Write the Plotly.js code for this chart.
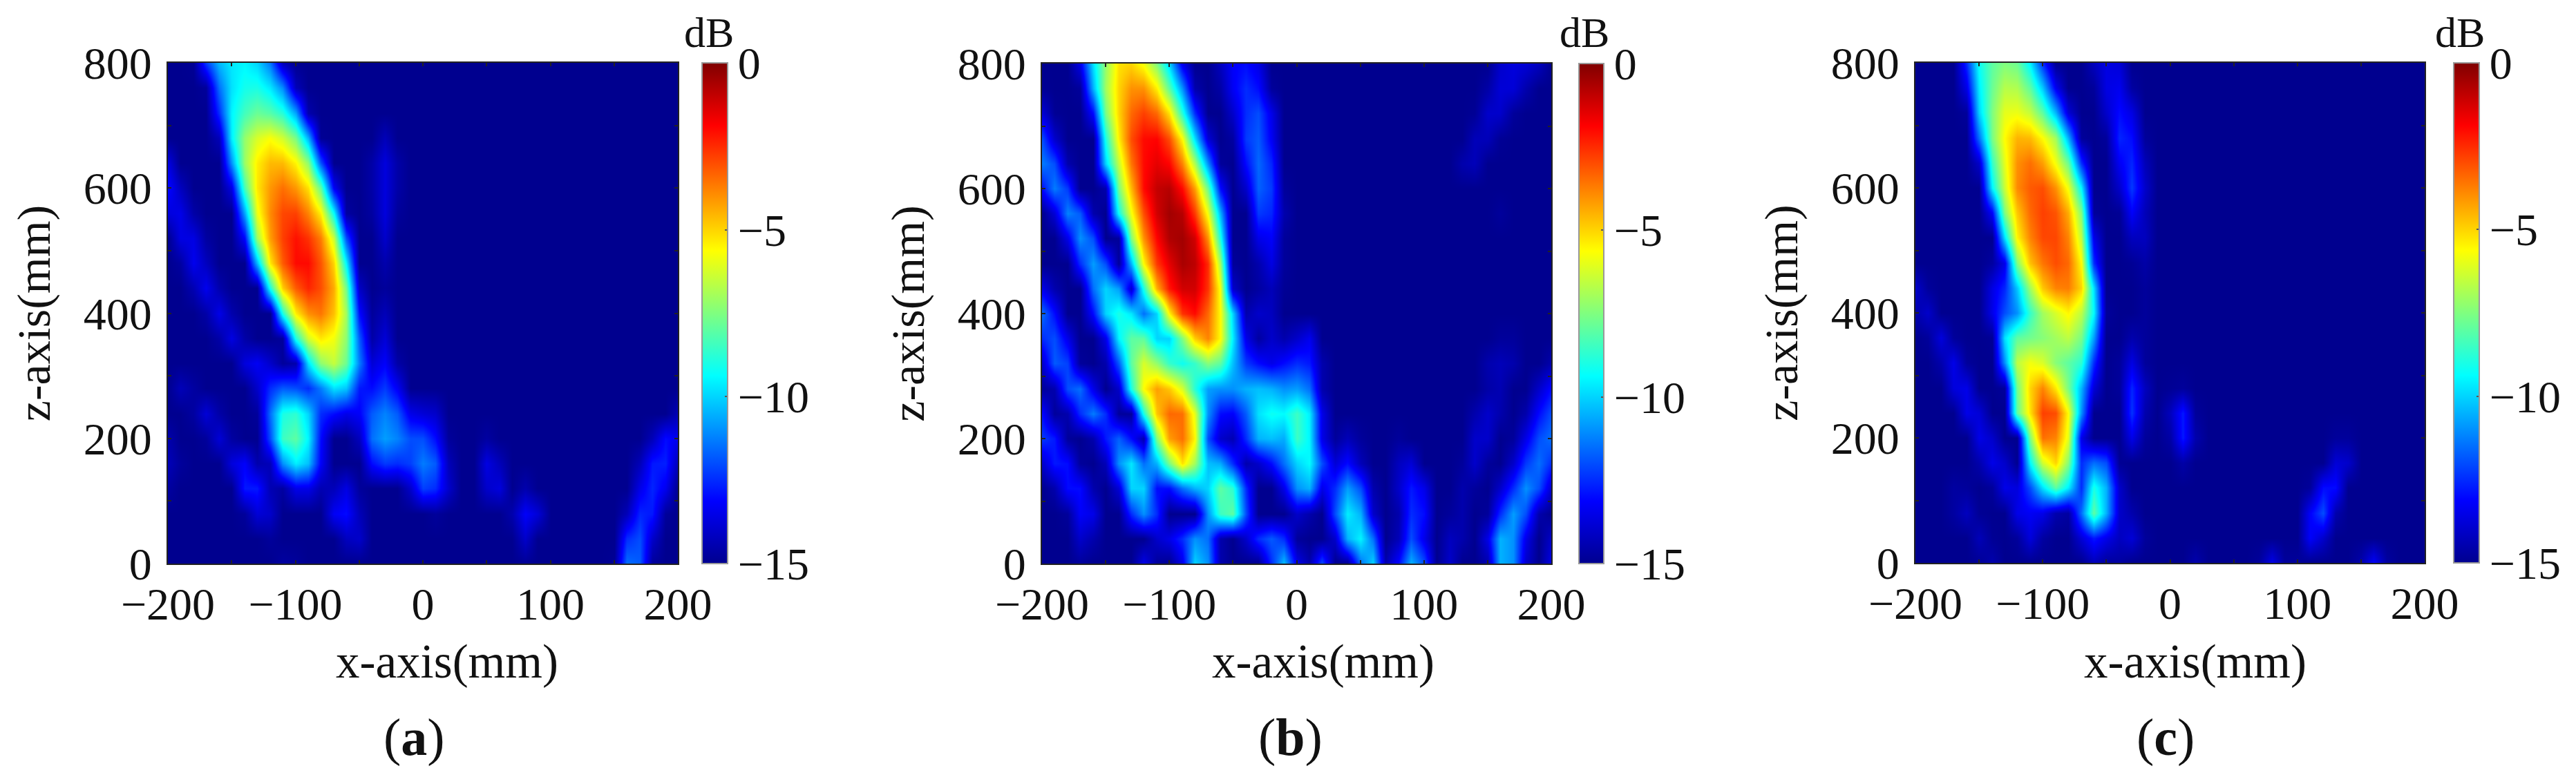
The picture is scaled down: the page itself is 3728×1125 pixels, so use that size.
<!DOCTYPE html>
<html>
<head>
<meta charset="utf-8">
<script src="https://cdn.plot.ly/plotly-3.0.1.min.js"></script>
<style>html,body{margin:0;padding:0;background:#fff}</style>
</head>
<body>
<div id="chart" style="width:3728px;height:1125px"></div>
<script>
const gridX = [-200,-190,-180,-170,-160,-150,-140,-130,-120,-110,-100,-90,-80,-70,-60,-50,-40,-30,-20,-10,0,10,20,30,40,50,60,70,80,90,100,110,120,130,140,150,160,170,180,190,200];
const gridZ = [800,760,720,680,640,600,560,520,480,440,400,360,320,280,240,200,160,120,80,40,0];
const xTicks = [-200,-150,-100,-50,0,50,100,150,200];
const xLabels = ['−200','','−100','','0','','100','','200'];
const zTicks = [0,100,200,300,400,500,600,700,800];
const zLabels = ['0','','200','','400','','600','','800'];
const dbTicks = [0,-5,-10,-15];
const panelNames = ['a','b','c'];

const levelsA = [
[-15,-15,-14.9,-12.3,-10.4,-9.7,-9.5,-10,-11.4,-14.3,-15,-15,-15,-15,-15,-15,-15,-15,-15,-15,-15,-15,-15,-15,-15,-15,-15,-15,-15,-15,-15,-15,-15,-15,-15,-15,-15,-15,-15,-15,-15],
[-15,-15,-15,-14.8,-11.5,-9.8,-9.1,-9,-9.7,-11.1,-14.3,-15,-15,-15,-15,-15,-15,-15,-15,-15,-15,-15,-15,-15,-15,-15,-15,-15,-15,-15,-15,-15,-15,-15,-15,-15,-15,-15,-15,-15,-15],
[-15,-15,-15,-15,-12.5,-9.5,-8.4,-7.8,-8.1,-8.8,-10.7,-14.5,-15,-15,-15,-15,-15,-15,-15,-15,-15,-15,-15,-15,-15,-15,-15,-15,-15,-15,-15,-15,-15,-15,-15,-15,-15,-15,-15,-15,-15],
[-15,-15,-15,-15,-14.3,-9.6,-7.2,-6.2,-5.7,-6.3,-7.6,-10.5,-14.9,-15,-15,-15,-15,-14.3,-15,-15,-15,-15,-15,-15,-15,-15,-15,-15,-15,-15,-15,-15,-15,-15,-15,-15,-15,-15,-15,-15,-15],
[-13.6,-15,-15,-15,-15,-11,-7.1,-5.4,-4.6,-4.6,-5.5,-7.3,-11.9,-15,-15,-15,-14.6,-13.7,-14.6,-15,-15,-15,-15,-15,-15,-15,-15,-15,-15,-15,-15,-15,-15,-15,-15,-15,-15,-15,-15,-15,-15],
[-13,-14.2,-15,-15,-15,-13.6,-8.3,-5.3,-4.1,-3.5,-4.1,-5.2,-7.9,-13.3,-15,-15,-14.6,-13.7,-14.6,-15,-15,-15,-15,-15,-15,-15,-15,-15,-15,-15,-15,-15,-15,-15,-15,-15,-15,-15,-15,-15,-15],
[-13.7,-13.5,-14.6,-15,-15,-15,-10.7,-5.9,-3.9,-2.9,-2.8,-3.8,-5.4,-9.3,-14.7,-15,-14.7,-13.7,-14.8,-15,-15,-15,-15,-15,-15,-15,-15,-15,-15,-15,-15,-15,-15,-15,-15,-15,-15,-15,-15,-15,-15],
[-15,-13.6,-13.6,-14.7,-15,-15,-13.1,-7.1,-4.2,-2.8,-2.1,-2.6,-3.7,-6.4,-12,-15,-15,-14,-15,-15,-15,-15,-15,-15,-15,-15,-15,-15,-15,-15,-15,-15,-15,-15,-15,-15,-15,-15,-15,-15,-15],
[-15,-14.7,-13.4,-14.2,-15,-15,-15,-10.4,-5.3,-3.2,-2,-2,-3.1,-5,-9.5,-15,-15,-14.5,-15,-15,-15,-15,-15,-15,-15,-15,-15,-15,-15,-15,-15,-15,-15,-15,-15,-15,-15,-15,-15,-15,-15],
[-15,-15,-14.4,-13.4,-14.5,-15,-15,-15,-9,-4.9,-3.2,-2.4,-3,-4.4,-7.7,-14.1,-15,-14.8,-15,-15,-15,-15,-15,-15,-15,-15,-15,-15,-15,-15,-15,-15,-15,-15,-15,-15,-15,-15,-15,-15,-15],
[-15,-15,-15,-14.6,-13.5,-14.5,-15,-15,-15,-9,-5.4,-4,-3.6,-4.7,-7,-13,-14.8,-14.3,-15,-15,-15,-15,-15,-15,-15,-15,-15,-15,-15,-15,-15,-15,-15,-15,-15,-15,-15,-15,-15,-15,-15],
[-15,-15,-15,-15,-14.6,-13.6,-14.6,-15,-15,-14.8,-9,-6.3,-5.3,-5.8,-7.3,-11.8,-14.6,-13.8,-15,-15,-15,-15,-15,-15,-15,-15,-15,-15,-15,-15,-15,-15,-15,-15,-15,-15,-15,-15,-15,-15,-15],
[-15,-15,-15,-15,-15,-15,-13.7,-13.3,-14,-14.8,-14.5,-9.8,-7.3,-6.5,-7.8,-11.3,-13.8,-13.2,-14.6,-15,-15,-15,-15,-15,-15,-15,-15,-15,-15,-15,-15,-15,-15,-15,-15,-15,-15,-15,-15,-15,-15],
[-15,-14.3,-14.7,-15,-15,-15,-15,-14,-12.5,-11.8,-12,-12.5,-11.3,-9.8,-10.2,-12.8,-13,-12.3,-13.3,-15,-15,-15,-15,-15,-15,-15,-15,-15,-15,-15,-15,-15,-15,-15,-15,-15,-15,-15,-15,-15,-15],
[-15,-15,-14.7,-13.8,-14.6,-15,-15,-14.8,-11.5,-9,-8.7,-10,-12.5,-13,-13.5,-13.2,-11.8,-11.2,-11.8,-13.5,-13.8,-14,-15,-15,-15,-15,-15,-15,-15,-15,-15,-15,-15,-15,-15,-15,-15,-15,-15,-15,-14.3],
[-14.5,-15,-15,-14.8,-13.8,-14.7,-15,-15,-12,-8.5,-8,-9.5,-13,-15,-15,-14.2,-11.5,-10.8,-11.2,-12,-12,-13,-14.8,-15,-15,-14.7,-15,-15,-15,-15,-15,-15,-15,-15,-15,-15,-15,-15,-14.3,-13,-13.4],
[-14.3,-14.8,-15,-15,-15,-13.7,-13.2,-14.5,-14.3,-11,-9.6,-10.3,-13.2,-15,-15,-15,-13,-12.3,-12.5,-12.2,-11.3,-11.8,-14.3,-15,-15,-13.6,-14.3,-15,-15,-15,-15,-15,-15,-15,-15,-15,-15,-14.3,-12.8,-12.7,-14.3],
[-14.7,-15,-15,-15,-15,-15,-12.8,-12.8,-14.4,-14.7,-13.5,-13.5,-14.4,-14.3,-13.6,-14.8,-15,-15,-15,-14,-12.2,-12.5,-14,-15,-15,-14,-13.7,-15,-14.5,-15,-15,-15,-15,-15,-15,-15,-15,-13.5,-12.6,-13.4,-15],
[-15,-15,-15,-15,-15,-15,-14.8,-13.8,-14,-15,-15,-15,-15,-13.3,-13,-14.3,-15,-15,-15,-15,-15,-14.8,-15,-15,-15,-15,-15,-14.5,-13.2,-13.8,-15,-15,-15,-15,-15,-15,-14.3,-12.6,-12.8,-14.8,-15],
[-15,-15,-15,-15,-15,-15,-15,-15,-14.8,-15,-15,-15,-15,-15,-14.2,-14,-15,-15,-15,-15,-15,-15,-15,-15,-15,-15,-15,-15,-14,-15,-15,-15,-15,-15,-15,-15,-12.5,-12,-14,-15,-15],
[-15,-15,-15,-15,-15,-15,-15,-15,-15,-14.7,-14.8,-15,-15,-15,-15,-15,-15,-15,-15,-15,-15,-15,-15,-15,-15,-15,-15,-15,-14.9,-15,-15,-15,-15,-15,-15,-14.9,-11.5,-11.8,-14.8,-15,-15]
];

const levelsB = [
[-15,-15,-15,-13.5,-9.8,-7.2,-5.2,-5,-5.8,-7.5,-10,-13.5,-15,-15,-14.2,-13.2,-13,-13.6,-15,-15,-15,-15,-15,-15,-15,-15,-15,-15,-15,-15,-15,-15,-15,-15,-15,-15,-14,-13.7,-13.8,-14.2,-15],
[-14.9,-15,-15,-14.8,-10.5,-7,-5,-4,-4,-5.4,-8,-11,-14.5,-15,-14.6,-13.3,-12.5,-13,-14.8,-15,-15,-15,-15,-15,-15,-15,-15,-15,-15,-15,-15,-15,-15,-15,-15,-14.6,-13.8,-13.8,-14.5,-15,-15],
[-13.8,-14.9,-15,-15,-13,-7.6,-5,-3.4,-2.8,-3.4,-5.2,-8.8,-12.5,-15,-15,-14,-12.5,-12,-13.5,-15,-15,-15,-15,-15,-15,-15,-15,-15,-15,-15,-15,-15,-15,-15,-14.9,-14,-14,-14.8,-15,-15,-15],
[-12,-14,-15,-15,-15,-9,-5.4,-3,-2,-1.9,-3,-5.6,-9.8,-13.8,-15,-14.7,-12.3,-11.8,-13.3,-15,-15,-15,-15,-15,-15,-15,-15,-15,-15,-15,-15,-15,-15,-15,-14.3,-14.3,-14.9,-15,-15,-15,-15],
[-11.3,-12,-14.5,-15,-15,-10,-6.5,-3.6,-2,-1.5,-1.9,-3.8,-6.8,-11,-14.8,-15,-13,-11.6,-12.6,-15,-15,-15,-15,-15,-15,-15,-15,-15,-15,-15,-15,-15,-15,-14.5,-14.3,-15,-15,-15,-15,-15,-15],
[-13,-11.3,-12.3,-15,-15,-14.5,-7.6,-4.6,-2,-1,-0.8,-2,-4.2,-7.8,-13,-15,-14,-11.7,-12.3,-14.8,-15,-15,-15,-15,-15,-15,-15,-15,-15,-15,-15,-15,-15,-15,-15,-15,-15,-15,-15,-15,-15],
[-15,-13.8,-11.2,-11.8,-14.5,-15,-9.2,-5.8,-3,-1.2,-0.5,-0.8,-2.7,-5.8,-10.5,-15,-15,-12.3,-12.6,-14.5,-15,-15,-15,-15,-15,-15,-15,-15,-15,-15,-15,-15,-15,-15,-15,-15,-14.8,-15,-15,-15,-15],
[-15,-15,-13.5,-11,-12,-15,-14.8,-7.5,-4,-1.9,-0.7,-0.5,-1.2,-4,-9,-15,-15,-13.5,-13.2,-14.8,-15,-15,-15,-15,-15,-15,-15,-15,-15,-15,-15,-15,-15,-15,-15,-15,-15,-15,-15,-15,-15],
[-15,-15,-15,-12.5,-10.8,-12,-14.8,-10.5,-5.6,-2.7,-1.5,-0.6,-0.9,-2.5,-7,-14.8,-15,-14.5,-13.6,-14.8,-15,-15,-15,-15,-15,-15,-15,-15,-15,-15,-15,-15,-15,-15,-15,-15,-15,-15,-15,-15,-15],
[-13.5,-14.5,-15,-15,-11.5,-10,-10.8,-14,-9,-4.5,-2.2,-1.2,-1.2,-2.6,-5.8,-14,-15,-14.7,-14.3,-14.9,-15,-15,-15,-15,-15,-15,-15,-15,-15,-15,-15,-15,-15,-15,-15,-15,-15,-15,-15,-15,-15],
[-11.5,-13,-15,-15,-13,-10,-9,-9.7,-11.5,-10,-5.5,-2.6,-2,-3.4,-5.6,-10,-14.5,-14,-14.2,-15,-15,-15,-15,-15,-15,-15,-15,-15,-15,-15,-15,-15,-15,-15,-15,-15,-15,-15,-15,-15,-15],
[-12.5,-12,-13.5,-15,-15,-13.5,-9.5,-8,-8,-10,-10,-7.5,-4.9,-3.8,-5.6,-9.6,-13.5,-14.7,-14,-14.5,-14,-13.4,-15,-15,-15,-15,-15,-15,-15,-15,-15,-15,-15,-15,-15,-15,-14.8,-14.8,-15,-15,-15],
[-14,-11.8,-12.2,-14.8,-15,-14.5,-11.8,-8,-6.2,-7.2,-8.6,-9.2,-8.6,-7.4,-8,-10.3,-12.3,-13,-13.5,-13,-12.5,-12.8,-14.5,-15,-15,-15,-15,-15,-15,-15,-15,-15,-15,-15,-15,-14.5,-14.3,-14.5,-15,-15,-14.5],
[-14.8,-14.5,-12,-11.5,-13.5,-15,-14,-9,-5.6,-4.2,-4.8,-6.2,-8.8,-10.8,-11,-11,-10.5,-10.3,-10.5,-11,-10.8,-11.5,-14.5,-15,-15,-15,-15,-15,-15,-15,-15,-15,-15,-15,-15,-14.6,-14.4,-15,-15,-14,-13],
[-13,-14.8,-14.5,-12.5,-11.3,-12.5,-14.8,-14.8,-9,-4.8,-3.4,-3.5,-6,-11,-13,-13.2,-11.8,-9.8,-9.2,-9.4,-8.5,-9.6,-13.5,-15,-15,-15,-15,-15,-15,-15,-15,-15,-15,-15,-14.5,-14,-14.5,-15,-14.5,-13,-12],
[-12.3,-12.8,-14.8,-15,-14.5,-12.8,-11.7,-13,-14.5,-7.5,-4.2,-3.5,-5.5,-12,-14,-14.4,-12.5,-10.5,-10.3,-10.6,-8.5,-9.5,-13.5,-14.8,-14.3,-14.8,-15,-15,-14.8,-15,-15,-15,-15,-15,-14,-14,-15,-14.8,-13.5,-12,-11.5],
[-14,-12.8,-13,-14.8,-15,-14.3,-11,-9.7,-11.5,-10.5,-7.6,-5.2,-7,-10.3,-10.6,-12.5,-14.5,-14,-13,-11.5,-10,-9.4,-12,-13.8,-13,-14.3,-15,-15,-14.2,-13.8,-15,-15,-15,-14.8,-14,-14.8,-15,-14,-12.3,-11.5,-12.5],
[-15,-14.5,-13,-13,-14.5,-15,-13.8,-10,-10,-13,-13,-11.5,-10.5,-10,-8,-8.7,-12.5,-15,-15,-13.5,-11,-10.5,-13.5,-12.5,-10.8,-12,-14.5,-15,-14,-12.8,-13.5,-15,-15,-14.5,-14.8,-15,-14,-12.5,-11,-12,-14],
[-15,-15,-14.8,-13.2,-13.5,-15,-15,-12.5,-11,-12.5,-15,-15,-15,-11,-8.5,-8,-12,-15,-15,-15,-14,-14.5,-15,-12,-9.6,-10.5,-14,-15,-14.5,-12.5,-13,-15,-14.8,-14.5,-15,-14.8,-12.5,-10.8,-12,-14.5,-15],
[-15,-15,-15,-14,-14.5,-15,-15,-15,-15,-14,-13.5,-12.5,-11,-11.5,-14.5,-15,-14,-12.5,-11.8,-12.5,-14.8,-15,-15,-14,-10.5,-9.5,-11.5,-15,-14.3,-12,-13.5,-15,-14.2,-14.5,-15,-13.5,-10.5,-11,-13.5,-15,-14],
[-15,-15,-15,-14.8,-15,-15,-15,-15,-13.5,-14.8,-15,-13.5,-10,-11,-14.5,-15,-15,-15,-12.5,-10.3,-13.5,-14.5,-12,-15,-15,-11.5,-10,-14.5,-13,-10.5,-12,-15,-14,-15,-15,-14.5,-10.5,-11,-14,-15,-13.5]
];

const levelsC = [
[-15,-15,-15,-15,-12.5,-9.2,-8,-7.5,-7.8,-9.6,-12.5,-15,-15,-15,-14.2,-13.6,-13.8,-15,-15,-15,-15,-15,-15,-15,-15,-15,-15,-15,-15,-15,-15,-15,-15,-15,-15,-15,-15,-15,-15,-15,-15],
[-15,-15,-15,-15,-13.5,-9.6,-7.8,-6.7,-6.8,-8,-10.2,-13.4,-15,-15,-14.8,-13.6,-13.4,-14.7,-15,-15,-15,-15,-15,-15,-15,-15,-15,-15,-15,-15,-15,-15,-15,-15,-15,-15,-15,-15,-15,-15,-15],
[-15,-15,-15,-15,-14.8,-10,-7.5,-6,-5.9,-6.5,-8,-10.5,-13.8,-15,-15,-14,-13,-13.6,-15,-15,-15,-15,-15,-15,-15,-15,-15,-15,-15,-15,-15,-15,-15,-15,-15,-15,-15,-15,-15,-15,-15],
[-15,-15,-15,-15,-15,-11.5,-7.6,-5.6,-4.5,-4.6,-5.6,-7,-10.5,-14.8,-15,-14.8,-12.6,-13,-14.8,-15,-15,-15,-15,-15,-15,-15,-15,-15,-15,-15,-15,-15,-15,-15,-15,-15,-15,-15,-15,-15,-15],
[-15,-15,-15,-15,-15,-14,-8.6,-6,-4,-3.5,-4.2,-5.8,-7.8,-12.5,-15,-15,-13.3,-12.6,-14.3,-15,-15,-15,-15,-15,-15,-15,-15,-15,-15,-15,-15,-15,-15,-15,-15,-15,-15,-15,-15,-15,-15],
[-15,-15,-15,-15,-15,-15,-9.5,-6.4,-3.9,-3.2,-3,-4,-5.8,-9.5,-15,-15,-14,-12.3,-14,-15,-15,-15,-15,-15,-15,-15,-15,-15,-15,-15,-15,-15,-15,-15,-15,-15,-15,-15,-15,-15,-15],
[-15,-15,-15,-15,-15,-15,-13.2,-7.5,-4.8,-3.4,-2.8,-3.1,-4.4,-7.5,-14.8,-15,-14.9,-13.2,-14.3,-15,-15,-15,-15,-15,-15,-15,-15,-15,-15,-15,-15,-15,-15,-15,-15,-15,-15,-15,-15,-15,-15],
[-15,-15,-15,-15,-15,-15,-15,-9.8,-5.5,-3.8,-2.9,-2.9,-3.8,-6.6,-13.5,-15,-15,-14.2,-14.2,-15,-15,-15,-15,-15,-15,-15,-15,-15,-15,-15,-15,-15,-15,-15,-15,-15,-15,-15,-15,-15,-15],
[-15,-15,-15,-15,-15,-15,-14.7,-13.5,-7.5,-4.7,-3.6,-3,-3.4,-5.6,-12.5,-15,-15,-14.9,-14.6,-15,-15,-15,-15,-15,-15,-15,-15,-15,-15,-15,-15,-15,-15,-15,-15,-15,-15,-15,-15,-15,-15],
[-14,-14.8,-15,-15,-15,-15,-13.6,-12.6,-10.2,-7,-4.8,-3.8,-3.7,-5,-9.8,-15,-15,-15,-14.8,-15,-15,-15,-15,-15,-15,-15,-15,-15,-15,-15,-15,-15,-15,-15,-15,-15,-15,-15,-15,-15,-15],
[-14.5,-14,-15,-15,-15,-15,-13.5,-12,-11,-8.6,-7,-6.2,-5.5,-6.6,-9.4,-14.8,-15,-15,-14.8,-15,-15,-15,-15,-15,-15,-15,-15,-15,-15,-15,-15,-15,-15,-15,-15,-15,-15,-15,-15,-15,-15],
[-15,-14.8,-13.7,-14.8,-15,-15,-14.9,-9.8,-8,-7.7,-7.4,-7,-6.6,-7.6,-10.8,-15,-15,-14.5,-14.8,-15,-15,-15,-15,-15,-15,-15,-15,-15,-15,-15,-15,-15,-15,-15,-15,-15,-15,-15,-15,-15,-15],
[-15,-15,-14.5,-13.5,-14.8,-15,-15,-11,-6.6,-5.8,-6.2,-7.4,-8,-8.7,-12.5,-15,-14.8,-13.6,-14.8,-15,-15,-15,-15,-15,-15,-15,-15,-15,-15,-15,-15,-15,-15,-15,-15,-15,-15,-15,-15,-15,-15],
[-15,-15,-15,-13.7,-13.5,-15,-15,-14.8,-7.7,-5,-3.8,-5.3,-7.6,-10.5,-13.8,-15,-14.8,-12.6,-14.2,-15,-14.9,-14.8,-15,-15,-15,-15,-15,-15,-15,-15,-15,-15,-15,-15,-15,-15,-15,-15,-15,-15,-15],
[-15,-15,-15,-15,-13.5,-13.8,-15,-15,-8,-5.2,-2.8,-3,-5.6,-11,-15,-15,-15,-12.4,-14.5,-15,-14.2,-12.8,-14.8,-15,-15,-15,-15,-15,-15,-15,-15,-15,-15,-15,-15,-15,-15,-15,-15,-15,-15],
[-15,-15,-15,-15,-15,-13.5,-14,-15,-15,-7.5,-3.5,-3.8,-6,-13.5,-15,-15,-15,-13.5,-14.8,-15,-14.6,-12.8,-14.5,-15,-15,-15,-15,-15,-15,-15,-15,-15,-15,-14.8,-14.8,-15,-15,-15,-15,-15,-15],
[-15,-15,-15,-15,-15,-14.5,-13.5,-14,-15,-9.4,-6.3,-5,-7.4,-12.5,-11.5,-12,-14.9,-15,-15,-15,-15,-14.6,-15,-15,-15,-15,-15,-15,-15,-15,-15,-15,-15,-13.8,-14,-15,-15,-15,-15,-15,-15],
[-15,-15,-15,-14.7,-14.8,-15,-14.8,-13.5,-13.7,-12,-9.8,-8,-9.6,-12.5,-9,-10.5,-14,-15,-15,-15,-15,-15,-15,-15,-15,-15,-15,-15,-15,-15,-15,-14.8,-13,-13,-15,-15,-15,-15,-15,-15,-15],
[-15,-15,-15,-14.7,-14.2,-14.9,-15,-15,-13.5,-13.3,-13.5,-14.5,-14.7,-11.5,-8,-10.5,-14,-14.5,-15,-15,-15,-15,-15,-15,-15,-15,-15,-15,-15,-15,-15,-13.2,-12,-14.5,-15,-15,-15,-15,-15,-15,-15],
[-15,-15,-15,-15,-15,-14.3,-14.9,-15,-14.8,-13.7,-14.7,-15,-15,-13.8,-12.8,-13.5,-14.2,-13.8,-14.8,-15,-15,-15,-15,-15,-15,-15,-15,-15,-15,-15,-15,-13.2,-14,-15,-15,-15,-15,-15,-15,-15,-15],
[-15,-15,-15,-15,-15,-14.9,-14.5,-15,-15,-15,-15,-15,-15,-15,-14.3,-14.8,-14.7,-15,-15,-15,-15,-15,-14.5,-15,-15,-15,-15,-14.8,-13.5,-14.8,-14.8,-15,-15,-15,-15,-14.5,-13.2,-14.7,-15,-15,-15]
];

const jet = [[0,'#00008f'],[0.125,'#0000ff'],[0.375,'#00ffff'],[0.625,'#ffff00'],[0.875,'#ff0000'],[1,'#800000']];
const W = 3728, H = 1125;
const serif = '"Liberation Serif", "Times New Roman", serif';
const inkColor = '#111';

// where each panel sits, in picture pixels
const boxes = [
    {l: 243, r: 981, cl: 1016, cr: 1053, t: 91, b: 816, titleX: 647, dbX: 1026, labelX: 599},
    {l: 1508, r: 2245, cl: 2285, cr: 2321, t: 92, b: 816, titleX: 1915, dbX: 2293, labelX: 1867},
    {l: 2772, r: 3509, cl: 3551, cr: 3588, t: 91, b: 815, titleX: 3177, dbX: 3560, labelX: 3134}
];

const levels = [levelsA, levelsB, levelsC];
const traces = [];
const layout = {
    width: W, height: H,
    margin: {l: 0, r: 0, t: 0, b: 0, autoexpand: false},
    paper_bgcolor: '#fff',
    plot_bgcolor: '#00008f',
    font: {family: serif, size: 66, color: inkColor},
    showlegend: false,
    annotations: []
};

function pageText(text, x, y, size) {
    return {
        xref: 'paper', yref: 'paper',
        x: x / W, y: 1 - y / H,
        xanchor: 'center', yanchor: 'middle',
        text: text,
        showarrow: false,
        font: {family: serif, size: size, color: inkColor}
    };
}

boxes.forEach((box, i) => {
    const suffix = i === 0 ? '' : String(i + 1);
    traces.push({
        type: 'heatmap',
        x: gridX,
        y: gridZ,
        z: levels[i],
        xaxis: 'x' + suffix,
        yaxis: 'y' + suffix,
        zmin: -15,
        zmax: 0,
        zsmooth: 'best',
        colorscale: jet,
        hoverinfo: 'skip',
        colorbar: {
            x: box.cl / W,
            xanchor: 'left',
            xpad: 0,
            ypad: 0,
            y: 1 - (box.t + box.b) / 2 / H,
            yanchor: 'middle',
            len: (box.b - box.t) / H,
            lenmode: 'fraction',
            thickness: box.cr - box.cl,
            thicknessmode: 'pixels',
            tickmode: 'array',
            tickvals: dbTicks,
            ticktext: dbTicks.map(v => String(v).replace('-', '−')),
            ticks: 'inside',
            ticklen: 5,
            tickwidth: 2,
            tickcolor: '#555',
            outlinewidth: 2,
            outlinecolor: '#999',
            tickfont: {family: serif, size: 66, color: inkColor}
        }
    });
    layout['xaxis' + suffix] = {
        domain: [box.l / W, box.r / W],
        anchor: 'y' + suffix,
        range: [-200, 200],
        tickmode: 'array',
        tickvals: xTicks,
        ticktext: xLabels,
        ticks: 'inside',
        ticklen: 5,
        tickwidth: 2,
        tickcolor: '#222',
        showline: true,
        mirror: 'ticks',
        linecolor: '#222',
        linewidth: 2,
        showgrid: false,
        zeroline: false,
        tickfont: {family: serif, size: 66, color: inkColor}
    };
    layout['yaxis' + suffix] = {
        domain: [1 - box.b / H, 1 - box.t / H],
        anchor: 'x' + suffix,
        range: [0, 800],
        tickmode: 'array',
        tickvals: zTicks,
        ticktext: zLabels,
        ticks: 'inside',
        ticklen: 5,
        tickwidth: 2,
        tickcolor: '#222',
        showline: true,
        mirror: 'ticks',
        linecolor: '#222',
        linewidth: 2,
        showgrid: false,
        zeroline: false,
        ticklabelstandoff: 8,
        tickfont: {family: serif, size: 66, color: inkColor},
        title: {text: 'z-axis(mm)', font: {family: serif, size: 68, color: inkColor}, standoff: 26}
    };
    // the x title sits right of the axis centre in the source, so it is placed by hand
    layout.annotations.push(pageText('x-axis(mm)', box.titleX, 958, 69));
    layout.annotations.push(pageText('dB', box.dbX, 47, 62));
    layout.annotations.push(pageText('(<b>' + panelNames[i] + '</b>)', box.labelX, 1067, 76));
});

Plotly.newPlot('chart', traces, layout, {displayModeBar: false, staticPlot: true});
</script>
</body>
</html>
